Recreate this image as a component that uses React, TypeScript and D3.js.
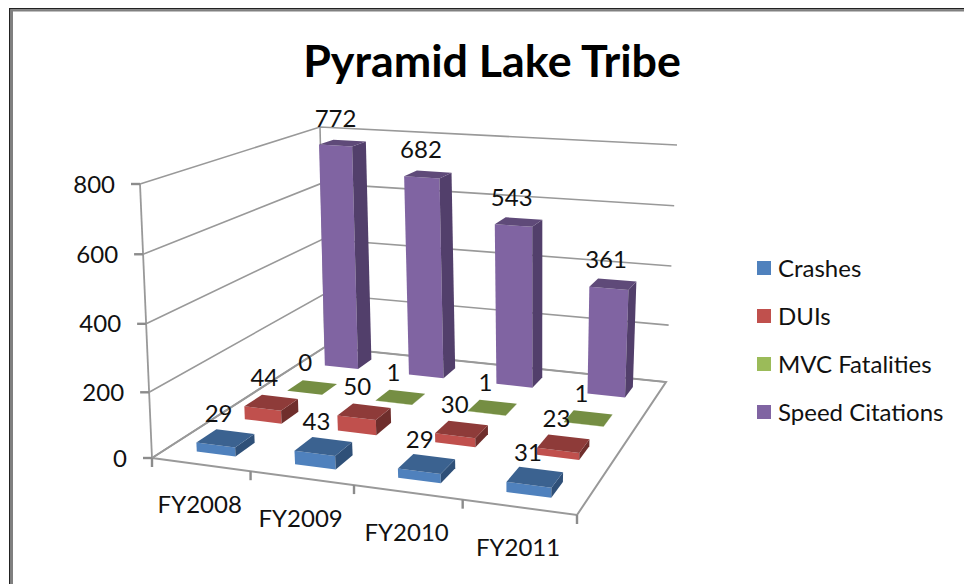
import React from "react";
import * as d3 from "d3";

const title = "Pyramid Lake Tribe";
const categories = ["FY2008", "FY2009", "FY2010", "FY2011"];
const seriesNames = ["Crashes", "DUIs", "MVC Fatalities", "Speed Citations"];
const crashes = [29, 43, 29, 31];
const duis = [44, 50, 30, 23];
const fatalities = [0, 1, 1, 1];
const speedCitations = [772, 682, 543, 361];
const valueTicks = [0, 200, 400, 600, 800];
const frontColors = ["#4f81bd", "#c0504d", "#9bbb59", "#8064a2"];
const topColors = ["#3b6290", "#8e3b39", "#758e43", "#5f4a79"];
const sideColors = ["#2f5078", "#6f2e2c", "#5c7035", "#523f6b"];

const seriesValues = [crashes, duis, fatalities, speedCitations];

type P = [number, number];

function homography(p0: P, p1: P, p2: P, p3: P) {
  const [x0, y0] = p0, [x1, y1] = p1, [x2, y2] = p2, [x3, y3] = p3;
  const dx1 = x1 - x2, dx2 = x3 - x2, sx = x0 - x1 + x2 - x3;
  const dy1 = y1 - y2, dy2 = y3 - y2, sy = y0 - y1 + y2 - y3;
  const den = dx1 * dy2 - dx2 * dy1;
  const g = (sx * dy2 - dx2 * sy) / den;
  const h = (dx1 * sy - sx * dy1) / den;
  const a = x1 - x0 + g * x1, b = x3 - x0 + h * x3;
  const d = y1 - y0 + g * y1, e = y3 - y0 + h * y3;
  return (u: number, v: number): P => {
    const w = g * u + h * v + 1;
    return [(a * u + b * v + x0) / w, (d * u + e * v + y0) / w];
  };
}

// Floor and ceiling planes of the 3D plot box: front-left, front-right, back-right, back-left
const floor = homography([152, 458], [577, 515], [666, 382], [325, 347]);
const ceil = homography([140, 184], [586, 220], [677, 145], [320, 127]);

const uScale = d3.scaleBand<string>().domain(categories).range([0, 1]).paddingInner(0.6).paddingOuter(0.3);
const vScale = d3.scaleBand<string>().domain(seriesNames).range([0, 1]).paddingInner(0.6).paddingOuter(0.3);
// slight perspective compression of the height axis
const wScale = d3.scalePow().exponent(1.03).domain([0, 800]).range([0, 1]);
const tickU = d3.scaleLinear().domain([0, categories.length]).range([0, 1]);

function project(u: number, v: number, w: number): P {
  const a = floor(u, v), b = ceil(u, v);
  return [a[0] + (b[0] - a[0]) * w, a[1] + (b[1] - a[1]) * w];
}
const line = d3.line<P>();
const poly = (pts: P[]) => line(pts) + "Z";

const FONT = "Lato, 'Open Sans', sans-serif";
const GRID = "#999999";

export default function App() {
  const w = 964, h = 584;
  return (
    <svg width={w} height={h} viewBox={`0 0 ${w} ${h}`} style={{ position: "absolute", left: 0, top: 0, background: "#fff", fontFamily: FONT }}>
      <rect x={9} y={8} width={w - 9} height={1.5} fill="#222" />
      <rect x={9} y={8} width={1.5} height={h - 8} fill="#222" />
      <rect x={10} y={9.5} width={w - 10} height={2} fill="#808080" />
      <rect x={10} y={9.5} width={3} height={h - 9.5} fill="#808080" />

      <text x={492} y={77} textAnchor="middle" fontSize={44.8} fontWeight={700} fill="#000">{title}</text>

      {/* walls */}
      {valueTicks.map((t) => (
        <path key={t} fill="none" stroke={GRID} strokeWidth={1.6}
          d={line([project(0, 0, wScale(t)), project(0, 1, wScale(t)), project(1, 1, wScale(t))]) as string} />
      ))}
      <path fill="none" stroke={GRID} strokeWidth={1.8} d={line([project(0, 0, 0), project(0, 0, 1)]) as string} />
      <path fill="none" stroke={GRID} strokeWidth={1.6} d={line([project(0, 1, 0), project(0, 1, 1)]) as string} />
      <path fill="none" stroke={GRID} strokeWidth={2} d={poly([project(0, 0, 0), project(1, 0, 0), project(1, 1, 0), project(0, 1, 0)])} />

      {/* value axis */}
      {valueTicks.map((t) => {
        const [x, y] = project(0, 0, wScale(t));
        return (
          <g key={t}>
            <line x1={x - 9} x2={x} y1={y} y2={y} stroke="#8c8c8c" strokeWidth={2.4} />
            <text x={x - 25} y={y} dy="0.36em" textAnchor="end" fontSize={24} fill="#111">{t}</text>
          </g>
        );
      })}

      {/* category axis */}
      {d3.range(categories.length + 1).map((i) => {
        const [x, y] = project(tickU(i), 0, 0);
        return <line key={i} x1={x} x2={x} y1={y} y2={y + 9} stroke="#8c8c8c" strokeWidth={2.4} />;
      })}
      {categories.map((c, i) => {
        const [x, y] = project(tickU(i + 0.5), 0, 0);
        return <text key={c} x={x - 1} y={y + 40} dy="0.36em" textAnchor="middle" fontSize={24} fill="#111">{c}</text>;
      })}

      {/* bars, back row first */}
      {seriesNames.map((s, si) => ({ s, si })).reverse().map(({ s, si }) => {
        const v0 = vScale(s) as number, v1 = v0 + vScale.bandwidth();
        return (
          <g key={s}>
            {categories.map((c, ci) => {
              const u0 = uScale(c) as number, u1 = u0 + uScale.bandwidth();
              const z = wScale(seriesValues[si][ci]);
              return (
                <g key={c}>
                  <path fill={frontColors[si]} d={poly([project(u0, v0, 0), project(u1, v0, 0), project(u1, v0, z), project(u0, v0, z)])} />
                  <path fill={sideColors[si]} d={poly([project(u1, v0, 0), project(u1, v1, 0), project(u1, v1, z), project(u1, v0, z)])} />
                  <path fill={topColors[si]} d={poly([project(u0, v0, z), project(u1, v0, z), project(u1, v1, z), project(u0, v1, z)])} />
                </g>
              );
            })}
          </g>
        );
      })}

      {/* data labels */}
      {seriesNames.map((s, si) => {
        const vm = (vScale(s) as number) + vScale.bandwidth() / 2;
        return categories.map((c, ci) => {
          const um = (uScale(c) as number) + uScale.bandwidth() / 2;
          const val = seriesValues[si][ci];
          const [x, y] = project(um, vm, wScale(val));
          return <text key={s + c} x={x - 7} y={y - 25} dy="0.36em" textAnchor="middle" fontSize={24} fill="#111">{val}</text>;
        });
      })}

      {/* legend */}
      {seriesNames.map((s, i) => {
        const y = d3.scaleLinear().domain([0, 3]).range([268, 412])(i);
        return (
          <g key={s}>
            <rect x={757} y={y - 7} width={14} height={14} fill={frontColors[i]} />
            <text x={778} y={y} dy="0.36em" fontSize={24} fill="#111">{s}</text>
          </g>
        );
      })}
    </svg>
  );
}
